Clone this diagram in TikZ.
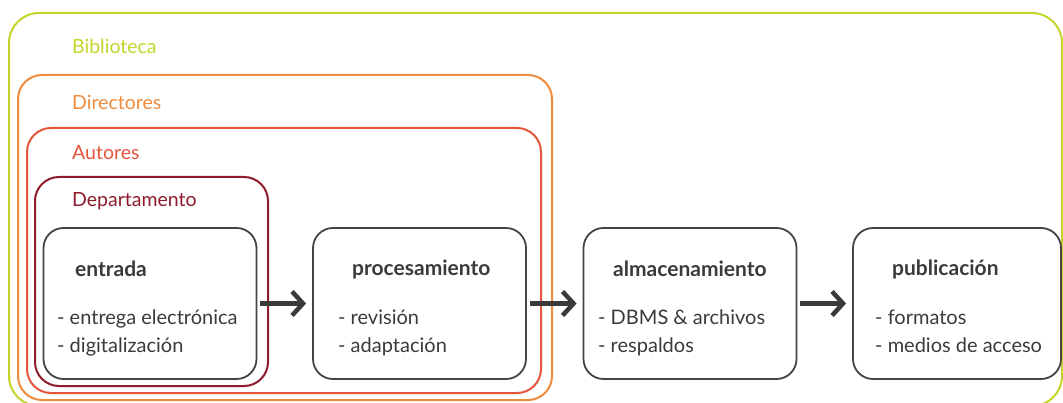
\documentclass[tikz,border=0pt]{standalone}
\usepackage{fontspec}
\setmainfont{Lato}
\usetikzlibrary{arrows.meta}
\definecolor{cgreen}{HTML}{C3D52B}
\definecolor{corange}{HTML}{EF8B3C}
\definecolor{cred}{HTML}{E5553B}
\definecolor{cdark}{HTML}{8E1B2B}
\definecolor{cbox}{HTML}{444444}
\definecolor{ctext}{HTML}{3A3A3A}
\tikzset{
  group/.style={draw, line width=2pt, rounded corners=24pt, inner sep=0pt},
  stage/.style={draw=cbox, line width=1.8pt, rounded corners=20pt, minimum width=213pt, minimum height=151pt, inner sep=0pt},
  glabel/.style={anchor=west, inner sep=0pt, font=\fontsize{19.5}{23}\selectfont},
  title/.style={anchor=west, inner sep=0pt, text=ctext, font=\fontsize{21}{24}\selectfont\bfseries},
  items/.style={anchor=north west, inner sep=0pt, text=ctext, align=left, font=\fontsize{20}{28}\selectfont},
  flow/.style={draw=ctext, line width=4.5pt, -{Straight Barb[length=11pt,width=24pt,line width=4.5pt]}, shorten <=3pt, shorten >=6pt}
}
\begin{document}
\begin{tikzpicture}[x=1pt,y=-1pt]
\useasboundingbox (0,0) rectangle (1063,403);
\clip (0,0) rectangle (1063,403);
% groups
\draw[group, draw=cgreen, rounded corners=30pt] (9,13) rectangle (1062,406);
\draw[group, draw=corange] (18,75) rectangle (552,400);
\draw[group, draw=cred] (27,128) rectangle (541,393);
\draw[group, draw=cdark] (35,177) rectangle (268,386);
\node[glabel, text=cgreen] (lbib) at (72,46) {Biblioteca};
\node[glabel, text=corange] (ldir) at (72,102) {Directores};
\node[glabel, text=cred] (laut) at (72,153) {Autores};
\node[glabel, text=cdark] (ldep) at (72,201) {Departamento};
% stages
\node[stage] (entrada) at (150,303.5) {};
\node[stage] (proc) at (419.5,303.5) {};
\node[stage] (alm) at (690,303.5) {};
\node[stage, minimum width=208pt] (pub) at (957,303.5) {};
\node[title] (tentrada) at (75,269) {entrada};
\node[title] (tproc) at (352,269) {procesamiento};
\node[title] (talm) at (613,269) {almacenamiento};
\node[title] (tpub) at (892,269) {publicación};
\node[items] (ientrada) at (57,310) {- entrega electrónica\\- digitalización};
\node[items] (iproc) at (338,310) {- revisión\\- adaptación};
\node[items] (ialm) at (598,310) {- DBMS \& archivos\\- respaldos};
\node[items] (ipub) at (875,310) {- formatos\\- medios de acceso};
% flows
\draw[flow] (entrada.east) -- (proc.west);
\draw[flow] (proc.east) -- (alm.west);
\draw[flow] (alm.east) -- (pub.west);
\end{tikzpicture}
\end{document}
